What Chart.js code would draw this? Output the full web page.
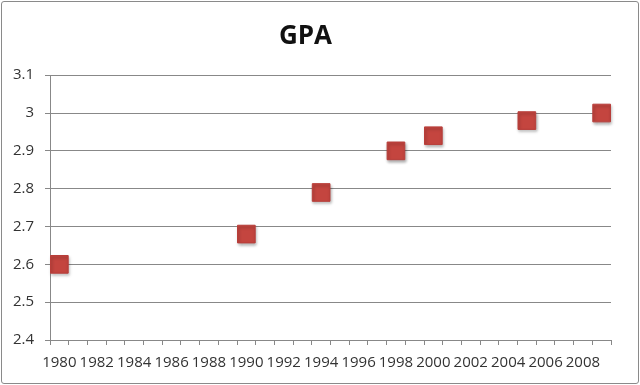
<!DOCTYPE html>
<html>
<head>
<meta charset="utf-8">
<script src="https://cdn.jsdelivr.net/npm/chart.js@4"></script>
<style>
    html, body { margin: 0; padding: 0; background: #fff; }
    #wrap { position: relative; width: 640px; height: 385px; }
    #frame {
        position: absolute; left: 1px; top: 1px; right: 1px; bottom: 1px;
        border: 1.5px solid #8a8a8a; border-radius: 3px; pointer-events: none;
    }
</style>
</head>
<body>
<div id="wrap">
    <canvas id="chart" width="640" height="385"></canvas>
    <div id="frame"></div>
</div>
<script>
// Years on the category axis, one slot per year
const years = [];
for (let y = 1980; y <= 2009; y++) years.push(String(y));

// Measured points (year -> GPA)
const pointYears = [1980, 1990, 1994, 1998, 2000, 2005, 2009];
const gpaValues = [2.6, 2.68, 2.79, 2.9, 2.94, 2.98, 3.0];

const yTicks = [2.4, 2.5, 2.6, 2.7, 2.8, 2.9, 3.0, 3.1];

const series = years.map(y => {
    const i = pointYears.indexOf(parseInt(y));
    return i >= 0 ? gpaValues[i] : null;
});

// soft shadow under the markers, like the office chart
const markerShadow = {
    id: 'markerShadow',
    beforeDatasetsDraw(chart) {
        const ctx = chart.ctx;
        ctx.save();
        ctx.shadowColor = 'rgba(0,0,0,0.3)';
        ctx.shadowBlur = 3;
        ctx.shadowOffsetX = 1;
        ctx.shadowOffsetY = 2;
    },
    afterDatasetsDraw(chart) {
        chart.ctx.restore();
    }
};

const font = "'Open Sans', 'Liberation Sans', sans-serif";
const gridGray = '#888888';

new Chart(document.getElementById('chart'), {
    type: 'line',
    data: {
        labels: years,
        datasets: [{
            label: 'GPA',
            data: series,
            showLine: false,
            pointStyle: 'rect',
            pointRadius: 12.5,
            pointHoverRadius: 12.5,
            backgroundColor: '#c4453f',
            borderColor: '#b83e3a',
            borderWidth: 1
        }]
    },
    plugins: [markerShadow],
    options: {
        responsive: false,
        animation: false,
        layout: { padding: { left: 0, right: 29, top: 0, bottom: 0 } },
        plugins: {
            legend: { display: false },
            tooltip: { enabled: false },
            title: {
                display: true,
                text: 'GPA',
                color: '#111',
                font: { family: font, size: 26, weight: 'bold' },
                padding: { top: 21, bottom: 23 }
            }
        },
        scales: {
            x: {
                type: 'category',
                offset: true,
                grid: {
                    offset: true,
                    drawOnChartArea: false,
                    drawTicks: true,
                    tickLength: 5,
                    color: gridGray
                },
                border: { color: gridGray, width: 1 },
                ticks: {
                    autoSkip: false,
                    maxRotation: 0,
                    minRotation: 0,
                    padding: 9,
                    color: '#333',
                    font: { family: font, size: 15 },
                    callback: (val, idx) => idx % 2 === 0 ? years[idx] : ''
                },
                afterFit: scale => { scale.height = 45; }
            },
            y: {
                min: yTicks[0],
                max: yTicks[yTicks.length - 1],
                afterBuildTicks: scale => { scale.ticks = yTicks.map(v => ({ value: v })); },
                grid: { color: gridGray, tickLength: 5 },
                border: { color: gridGray, width: 1 },
                ticks: {
                    padding: 11,
                    color: '#333',
                    font: { family: font, size: 15 },
                    callback: v => String(Number(v.toFixed(1)))
                },
                afterFit: scale => { scale.width = 50; }
            }
        }
    }
});
</script>
</body>
</html>
